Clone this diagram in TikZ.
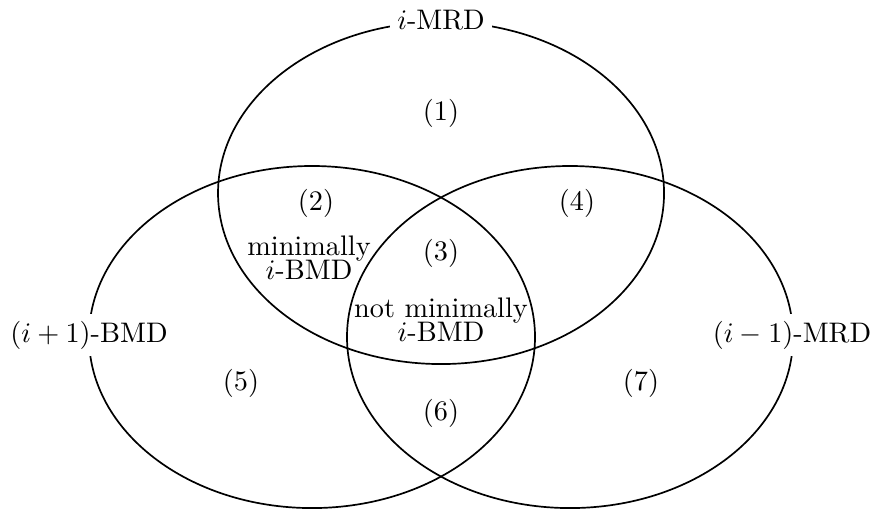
\documentclass[tikz,border=0pt]{standalone}
\usepackage{amsmath}
\usepackage{amssymb}
\usepackage{tikz}
\usetikzlibrary{positioning}

\begin{document}
\begin{tikzpicture}[semithick,
  setname/.style={fill=white,inner sep=2.5pt},
  region/.style={align=center,inner sep=1pt}]
              \useasboundingbox (0,0) rectangle (10.901,-6.389);
              \coordinate (mrd) at (5.482,-2.399);
              \coordinate (bmd) at (3.878,-4.189);
              \coordinate (mrdm) at (7.085,-4.189);

              %sets
              \draw (mrd) ellipse (2.772 and 2.126);
              \draw (bmd) ellipse (2.772 and 2.126);
              \draw (mrdm) ellipse (2.772 and 2.126);

              %set names
              \node[setname] (n1) at (5.482,-0.249) {$i$-MRD};
              \node[setname] (n2) at (1.106,-4.164) {$(i+1)$-BMD};
              \node[setname] (n3) at (9.845,-4.164) {$(i-1)$-MRD};

              %regions
              \node[region] (r1) at (5.482,-1.405) {(1)};
              \node[region] (r2) at (3.928,-2.523) {(2)};
              \node[region] (r3) at (5.482,-3.145) {(3)};
              \node[region] (r4) at (7.172,-2.523) {(4)};
              \node[region] (r5) at (2.996,-4.761) {(5)};
              \node[region] (r6) at (5.482,-5.134) {(6)};
              \node[region] (r7) at (7.968,-4.761) {(7)};
              \node[region] (min) at (3.841,-3.207) {minimally\\[-3.5pt]$i$-BMD};
              \node[region] (notmin) at (5.482,-3.978) {not minimally\\[-3.5pt]$i$-BMD};
            \end{tikzpicture}
\end{document}
